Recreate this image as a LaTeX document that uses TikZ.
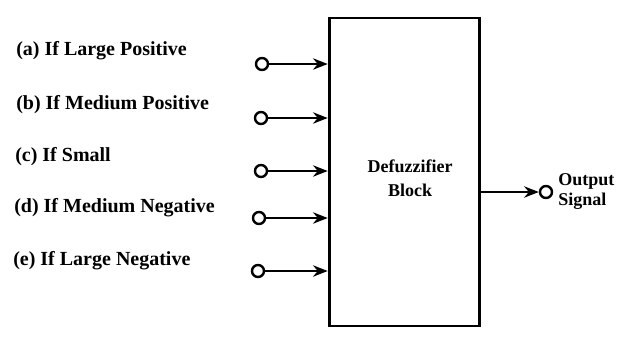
\documentclass[tikz,border=0pt]{standalone}
\usepackage{fontspec}
\setmainfont{Liberation Serif}
\usetikzlibrary{arrows.meta}
\begin{document}
\begin{tikzpicture}[x=0.75pt,y=-0.75pt,
  lbl/.style={anchor=west,inner sep=0pt,font=\fontsize{15}{16}\selectfont\bfseries},
  port/.style={circle,draw,line width=1.8pt,minimum size=9pt,inner sep=0pt},
  sig/.style={line width=1.7pt,-{Stealth[length=11pt,width=8.5pt]}},
  blk/.style={draw,line width=2.2pt,minimum width=113pt,minimum height=231pt,inner sep=0pt}]
\useasboundingbox (0,0) rectangle (623,337);
\node[blk] (box) at (404.5,172) {};
\node[align=center,font=\fontsize{13.5}{18}\selectfont\bfseries] (name) at (410,178) {Defuzzifier\\Block};
\node[lbl] (la) at (16,51) {(a) If Large Positive};
\node[lbl] (lb) at (16,105) {(b) If Medium Positive};
\node[lbl] (lc) at (15,157) {(c) If Small};
\node[lbl] (ld) at (14,208) {(d) If Medium Negative};
\node[lbl] (le) at (13,261) {(e) If Large Negative};
\node[port] (ca) at (262,64) {};
\node[port] (cb) at (261,118) {};
\node[port] (cc) at (261,171) {};
\node[port] (cd) at (259,218) {};
\node[port] (ce) at (258,271) {};
\foreach \c in {ca,cb,cc,cd,ce}
  \draw[sig] (\c) -- (\c -| box.west);
\node[port] (out) at (546,192) {};
\draw[sig] (box.east |- out) -- (out);
\node[anchor=west,align=left,inner sep=0pt,font=\fontsize{13.5}{15}\selectfont\bfseries] (outl) at (558,192) {Output\\Signal};
\end{tikzpicture}
\end{document}
